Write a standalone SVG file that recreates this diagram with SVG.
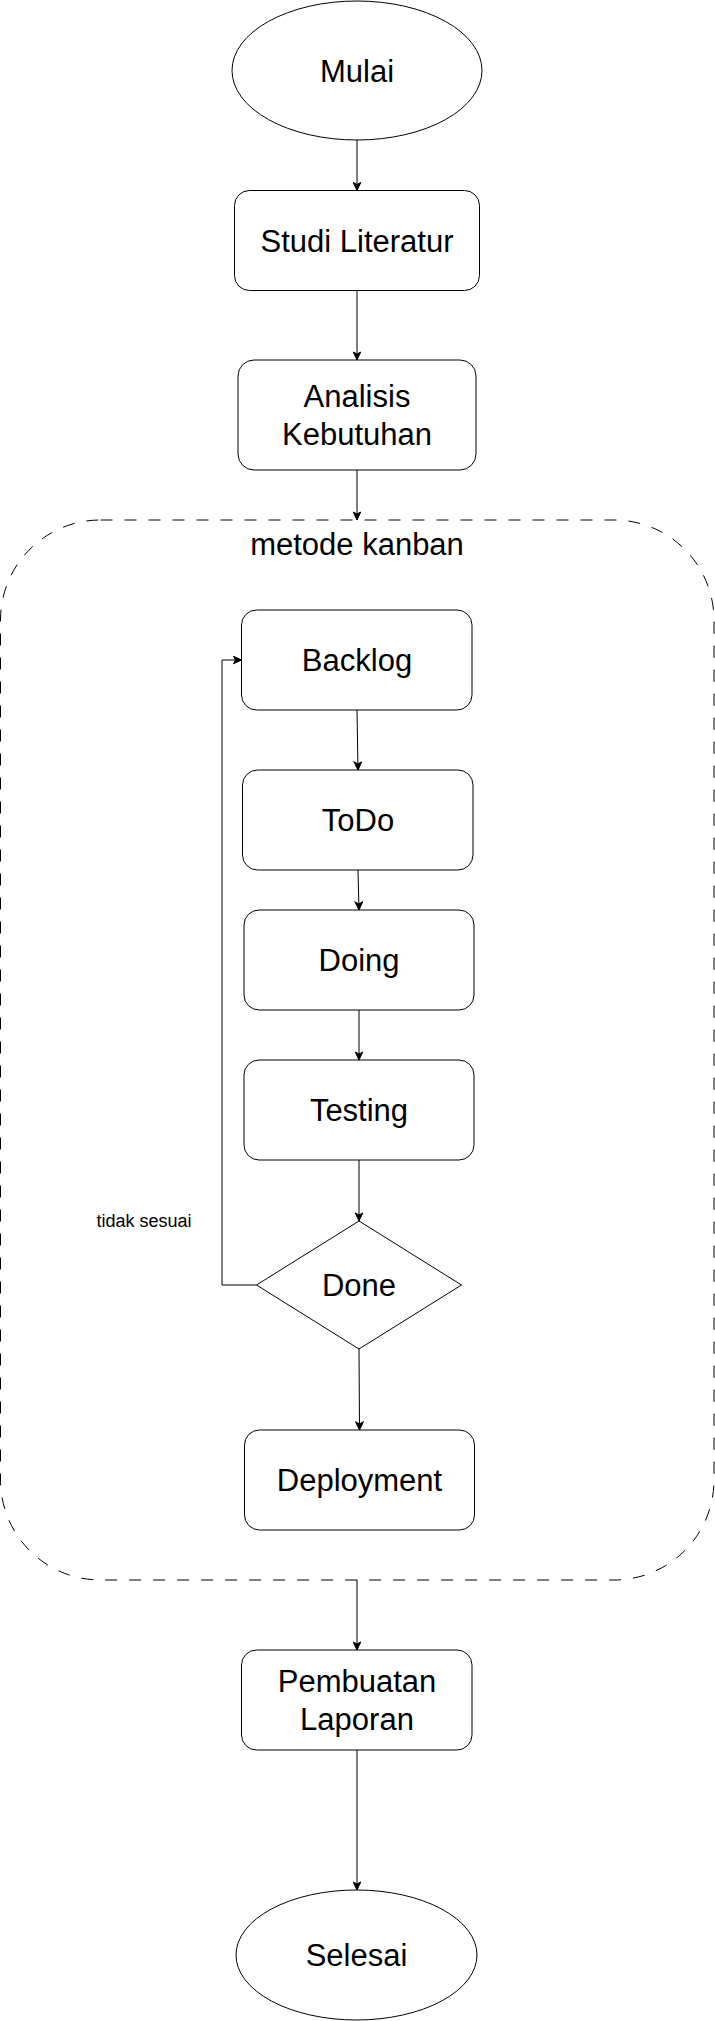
<svg xmlns="http://www.w3.org/2000/svg" width="715" height="2021" viewBox="0 0 715 2021">
<style>
.n{fill:#ffffff;stroke:#000000;stroke-width:1}
.t{font-family:"Liberation Sans",Helvetica,Arial,sans-serif;font-size:31px;fill:#000000;text-anchor:middle}
.s{font-family:"Liberation Sans",Helvetica,Arial,sans-serif;font-size:18px;fill:#000000;text-anchor:middle}
.c{fill:none;stroke:#000000;stroke-width:1}
.box{fill:none;stroke:#000000;stroke-width:1;stroke-dasharray:12 12}
</style>
<defs>
<marker id="arr" markerUnits="userSpaceOnUse" markerWidth="10" markerHeight="9" refX="9" refY="4.5" orient="auto" viewBox="0 0 10 9">
<path d="M1,0.75 L9,4.5 L1,8.25 L3,4.5 Z" fill="#000000" stroke="#000000" stroke-width="1"/>
</marker>
</defs>
<rect id="bg" x="0" y="0" width="715" height="2021" fill="#ffffff"/>
<g id="kanban">
<rect class="box" x="0.5" y="520" width="713.5" height="1060" rx="100" ry="100"/>
<text class="t" x="357" y="555">metode kanban</text>
</g>
<g id="connectors">
<path class="c" d="M357,140 L357,190.5" marker-end="url(#arr)"/>
<path class="c" d="M357,290.5 L357,360" marker-end="url(#arr)"/>
<path class="c" d="M357,470 L357,520" marker-end="url(#arr)"/>
<path class="c" d="M357,710 L358,770" marker-end="url(#arr)"/>
<path class="c" d="M358,870 L359,910" marker-end="url(#arr)"/>
<path class="c" d="M359,1010 L359,1060" marker-end="url(#arr)"/>
<path class="c" d="M359,1160 L359,1221" marker-end="url(#arr)"/>
<path class="c" d="M359,1349 L359.5,1430" marker-end="url(#arr)"/>
<path class="c" d="M256.5,1285 L222,1285 L222,660 L241.5,660" marker-end="url(#arr)"/>
<text class="s" x="144" y="1226.5">tidak sesuai</text>
<path class="c" d="M357,1580 L357,1650" marker-end="url(#arr)"/>
<path class="c" d="M357,1750 L357,1890" marker-end="url(#arr)"/>
</g>
<g id="mulai">
<ellipse class="n" cx="357" cy="70.5" rx="125" ry="69.5"/>
<text class="t" x="357" y="81.5">Mulai</text>
</g>
<g id="studi">
<rect class="n" x="234.5" y="190.5" width="245" height="100" rx="15" ry="15"/>
<text class="t" x="357" y="251.5">Studi Literatur</text>
</g>
<g id="analisis">
<rect class="n" x="238" y="360" width="238" height="110" rx="16" ry="16"/>
<text class="t" x="357" y="407">Analisis</text>
<text class="t" x="357" y="444.5">Kebutuhan</text>
</g>
<g id="backlog">
<rect class="n" x="241.5" y="610" width="230.5" height="100" rx="15" ry="15"/>
<text class="t" x="357" y="671">Backlog</text>
</g>
<g id="todo">
<rect class="n" x="242.5" y="770" width="230.5" height="100" rx="15" ry="15"/>
<text class="t" x="358" y="831">ToDo</text>
</g>
<g id="doing">
<rect class="n" x="244" y="910" width="230" height="100" rx="15" ry="15"/>
<text class="t" x="359" y="971">Doing</text>
</g>
<g id="testing">
<rect class="n" x="244" y="1060" width="230" height="100" rx="15" ry="15"/>
<text class="t" x="359" y="1121">Testing</text>
</g>
<g id="done">
<polygon class="n" points="256.5,1285 359,1221 461.5,1285 359,1349"/>
<text class="t" x="359" y="1296">Done</text>
</g>
<g id="deployment">
<rect class="n" x="244.5" y="1430" width="230" height="100" rx="15" ry="15"/>
<text class="t" x="359.5" y="1491">Deployment</text>
</g>
<g id="pembuatan">
<rect class="n" x="241.5" y="1650" width="230.5" height="100" rx="15" ry="15"/>
<text class="t" x="357" y="1692">Pembuatan</text>
<text class="t" x="357" y="1729.5">Laporan</text>
</g>
<g id="selesai">
<ellipse class="n" cx="356.5" cy="1955" rx="120.5" ry="65"/>
<text class="t" x="356.5" y="1966">Selesai</text>
</g>
</svg>
